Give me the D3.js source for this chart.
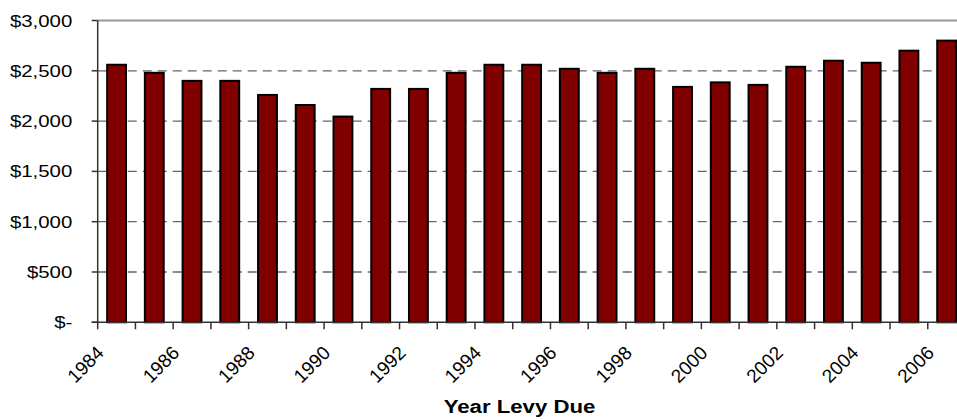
<!DOCTYPE html>
<meta charset="utf-8">
<style>
  body { margin: 0; background: #fff; }
  text { font-family: "Liberation Sans", Arial, sans-serif; fill: #000; }
</style>
<body>
<svg width="957" height="420"></svg>
<script src="https://d3js.org/d3.v7.min.js"></script>
<script>
  var years = ['1984', '1985', '1986', '1987', '1988', '1989', '1990', '1991', '1992', '1993', '1994', '1995',
    '1996', '1997', '1998', '1999', '2000', '2001', '2002', '2003', '2004', '2005', '2006'];
  var levy = [2560, 2480, 2400, 2400, 2260, 2160, 2045, 2320, 2320, 2480, 2560, 2560,
    2520, 2480, 2520, 2340, 2385, 2360, 2540, 2600, 2580, 2700, 2800];
  var yTicks = [0, 500, 1000, 1500, 2000, 2500, 3000];
  var yTickLabels = ['$-', '$500', '$1,000', '$1,500', '$2,000', '$2,500', '$3,000'];
  var xLabelYears = ['1984', '1986', '1988', '1990', '1992', '1994', '1996', '1998', '2000', '2002', '2004', '2006'];
  var xTitle = 'Year Levy Due';

  var svg = d3.select('svg');
  var g = svg.append('g');

  // the source picture is stretched sideways a bit, so the flat texts get this too
  var stretch = 'scale(1.2,1)';

  var plotLeft = 97.7, plotRight = 965.5, plotTop = 20.5, plotBottom = 322.3;

  var x = d3.scaleBand().domain(years).range([plotLeft, plotRight]).padding(0);
  var xBar = d3.scaleBand().domain(years).range([plotLeft, plotRight]).paddingInner(0.5).paddingOuter(0.25);
  var y = d3.scaleLinear().domain([0, 3000]).range([plotBottom, plotTop]);

  // grid lines
  g.selectAll('.grid')
    .data(yTicks.filter(function (d) { return d > 0 && d < 3000; }))
    .enter().append('line')
    .attr('x1', plotLeft).attr('x2', 957)
    .attr('y1', function (d) { return y(d); })
    .attr('y2', function (d) { return y(d); })
    .attr('stroke', '#666')
    .attr('stroke-width', 1.3)
    .attr('stroke-dasharray', '9,6');

  // plot area top border
  g.append('line')
    .attr('x1', plotLeft).attr('x2', 957)
    .attr('y1', y(3000)).attr('y2', y(3000))
    .attr('stroke', '#999')
    .attr('stroke-width', 2);

  // bars
  g.selectAll('.bar')
    .data(levy)
    .enter().append('rect')
    .attr('x', function (d, i) { return xBar(years[i]); })
    .attr('width', xBar.bandwidth())
    .attr('y', function (d) { return y(d); })
    .attr('height', function (d) { return y(0) - y(d); })
    .attr('fill', '#800000')
    .attr('stroke', '#000')
    .attr('stroke-width', 2);

  // axes
  g.append('line')
    .attr('x1', plotLeft).attr('x2', plotLeft)
    .attr('y1', plotTop).attr('y2', plotBottom)
    .attr('stroke', '#333').attr('stroke-width', 1.5);
  g.append('line')
    .attr('x1', plotLeft - 6).attr('x2', 957)
    .attr('y1', plotBottom).attr('y2', plotBottom)
    .attr('stroke', '#333').attr('stroke-width', 1.5);

  g.selectAll('.ytick')
    .data(yTicks)
    .enter().append('line')
    .attr('x1', plotLeft - 6).attr('x2', plotLeft)
    .attr('y1', function (d) { return y(d); })
    .attr('y2', function (d) { return y(d); })
    .attr('stroke', '#333').attr('stroke-width', 1.5);

  g.selectAll('.xtick')
    .data(years)
    .enter().append('line')
    .attr('x1', function (d) { return x(d); })
    .attr('x2', function (d) { return x(d); })
    .attr('y1', plotBottom).attr('y2', plotBottom + 7)
    .attr('stroke', '#333').attr('stroke-width', 1.5);

  // y labels
  g.selectAll('.ylabel')
    .data(yTicks)
    .enter().append('text')
    .attr('transform', function (d) { return 'translate(72.3,' + (y(d) + 6) + ') ' + stretch; })
    .attr('text-anchor', 'end')
    .style('font-size', '17px')
    .text(function (d, i) { return yTickLabels[i]; });

  // x labels, every other year
  g.selectAll('.xlabel')
    .data(xLabelYears)
    .enter().append('text')
    .attr('transform', function (d) {
      return 'translate(' + (x(d) + x.bandwidth() / 2 - 11.5) + ',354) rotate(-45)';
    })
    .attr('text-anchor', 'end')
    .style('font-size', '19px')
    .text(function (d) { return d; });

  g.append('text')
    .attr('transform', 'translate(519.5,413) ' + stretch)
    .attr('text-anchor', 'middle')
    .style('font-size', '18.5px')
    .style('font-weight', 'bold')
    .text(xTitle);
</script>
</body>
